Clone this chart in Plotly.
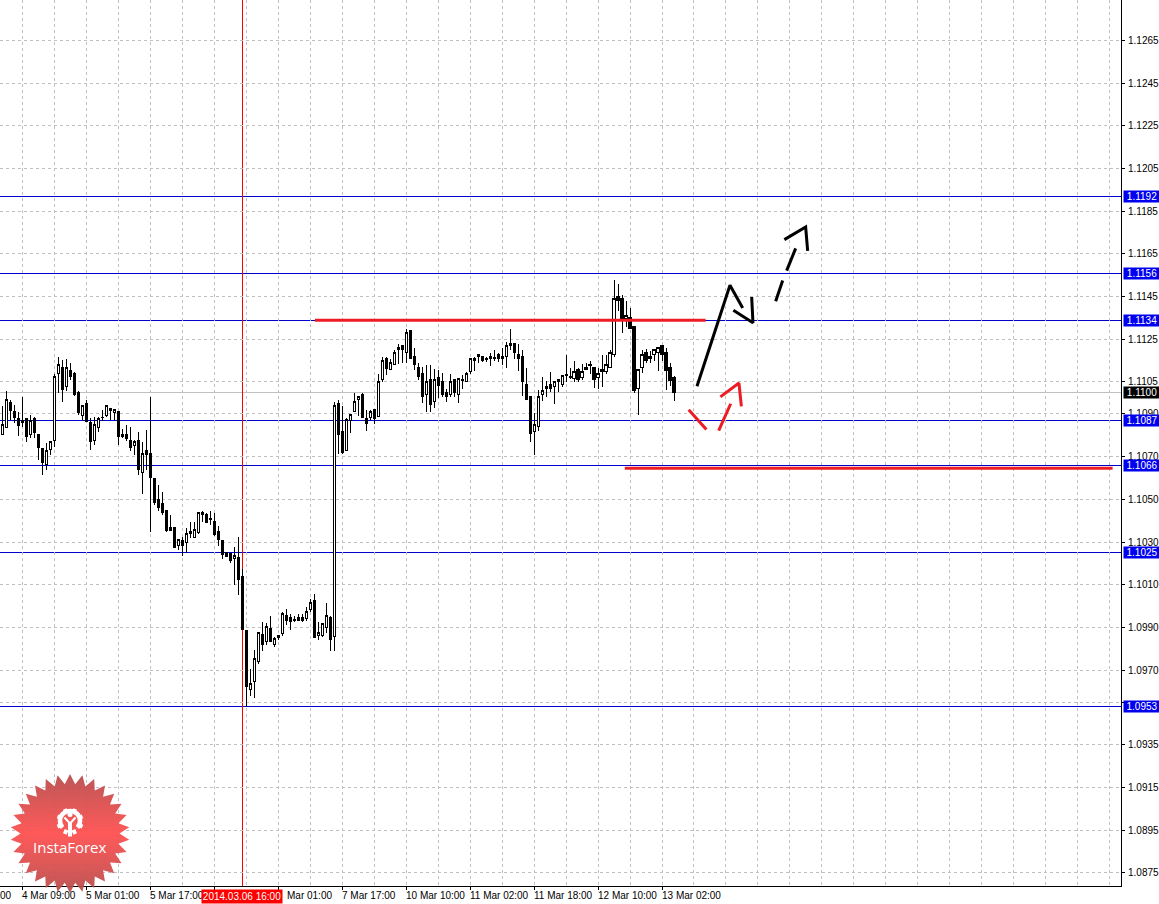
import base64, math
import plotly.graph_objects as go

opens = [
1.10805,1.10839,1.10956,1.10911,1.10877,1.10858,1.10877,1.10805,1.10877,1.10806,
1.10736,1.10664,1.10734,1.10778,1.11088,1.11116,1.11027,1.11106,1.11088,1.10999,
1.10894,1.10947,1.10858,1.10778,1.10839,1.10884,1.10894,1.10928,1.10908,1.10911,
1.10806,1.10806,1.10778,1.10753,1.10778,1.10628,1.10727,1.10717,1.10596,1.10499,
1.10480,1.10446,1.10366,1.10366,1.10284,1.10305,1.10296,1.10349,1.10322,1.10345,
1.10427,1.10427,1.10408,1.10394,1.10349,1.10306,1.10252,1.10244,1.10222,1.10227,
1.10138,1.09885,1.09608,1.09646,1.09739,1.09866,1.09833,1.09894,1.09819,1.09852,
1.09871,1.09955,1.09946,1.09936,1.09946,1.09946,1.09941,1.09983,1.10025,1.09861,
1.09861,1.09899,1.09946,1.09857,1.10948,1.10817,1.10728,1.10869,1.10911,1.10967,
1.10991,1.10878,1.10883,1.10920,1.10888,1.11061,1.11159,1.11108,1.11131,1.11201,
1.11220,1.11187,1.11291,1.11169,1.11117,1.11089,1.10991,1.11061,1.10958,1.11070,
1.11052,1.11000,1.10991,1.11061,1.10991,1.11061,1.11052,1.11098,1.11150,1.11169,
1.11169,1.11159,1.11169,1.11164,1.11178,1.11169,1.11169,1.11230,1.11230,1.11178,
1.11169,1.11037,1.10981,1.10817,1.10841,1.10991,1.11019,1.11037,1.11028,1.11061,
1.11037,1.11084,1.11075,1.11066,1.11108,1.11070,1.11108,1.11131,1.11117,1.11070,
1.11098,1.11098,1.11117,1.11178,1.11450,1.11440,1.11347,1.11351,1.11309,1.11019,
1.11117,1.11187,1.11159,1.11178,1.11187,1.11220,1.11187,1.11117,1.11070]
highs = [
1.10939,1.11009,1.10967,1.10940,1.10910,1.10981,1.10883,1.10896,1.10886,1.10806,
1.10736,1.10764,1.10769,1.11088,1.11167,1.11155,1.11158,1.11139,1.11097,1.11008,
1.10938,1.10967,1.10881,1.10886,1.10886,1.10920,1.10938,1.10928,1.10919,1.10911,
1.10830,1.10850,1.10839,1.10780,1.10816,1.10770,1.10823,1.10981,1.10596,1.10569,
1.10535,1.10446,1.10428,1.10366,1.10314,1.10324,1.10366,1.10396,1.10396,1.10436,
1.10447,1.10436,1.10444,1.10436,1.10373,1.10306,1.10252,1.10244,1.10278,1.10325,
1.10175,1.09885,1.09707,1.09796,1.09880,1.09927,1.09922,1.09955,1.09857,1.09861,
1.09974,1.09988,1.09964,1.09955,1.09964,1.09964,1.09997,1.10035,1.10058,1.09927,
1.09918,1.10016,1.09955,1.10958,1.10967,1.10939,1.10883,1.10897,1.11000,1.10981,
1.11000,1.10920,1.10920,1.10920,1.11089,1.11169,1.11169,1.11159,1.11201,1.11230,
1.11220,1.11300,1.11291,1.11211,1.11141,1.11122,1.11131,1.11131,1.11112,1.11108,
1.11094,1.11019,1.11089,1.11061,1.11070,1.11084,1.11098,1.11159,1.11169,1.11178,
1.11169,1.11169,1.11187,1.11201,1.11187,1.11211,1.11239,1.11300,1.11230,1.11230,
1.11201,1.11117,1.10981,1.10906,1.11014,1.11075,1.11056,1.11098,1.11052,1.11061,
1.11080,1.11178,1.11117,1.11150,1.11117,1.11136,1.11141,1.11150,1.11117,1.11117,
1.11178,1.11178,1.11201,1.11530,1.11511,1.11459,1.11431,1.11398,1.11309,1.11108,
1.11201,1.11206,1.11197,1.11206,1.11211,1.11220,1.11211,1.11141,1.11080]
lows = [
1.10805,1.10839,1.10873,1.10858,1.10795,1.10839,1.10767,1.10786,1.10788,1.10683,
1.10612,1.10636,1.10709,1.10744,1.10997,1.10955,1.11006,1.11061,1.10983,1.10897,
1.10873,1.10866,1.10733,1.10753,1.10814,1.10866,1.10884,1.10873,1.10872,1.10753,
1.10788,1.10772,1.10725,1.10709,1.10612,1.10523,1.10639,1.10345,1.10472,1.10444,
1.10428,1.10345,1.10355,1.10275,1.10264,1.10233,1.10249,1.10321,1.10322,1.10339,
1.10392,1.10392,1.10381,1.10327,1.10280,1.10222,1.10233,1.10202,1.10100,1.10053,
1.09889,1.09529,1.09580,1.09571,1.09730,1.09791,1.09819,1.09833,1.09810,1.09843,
1.09861,1.09913,1.09889,1.09927,1.09932,1.09927,1.09932,1.09974,1.09852,1.09843,
1.09857,1.09875,1.09791,1.09791,1.10714,1.10714,1.10728,1.10813,1.10911,1.10892,
1.10883,1.10822,1.10873,1.10855,1.10888,1.11052,1.11084,1.11108,1.11131,1.11136,
1.11141,1.11141,1.11159,1.11108,1.11061,1.10953,1.10911,1.10911,1.10930,1.10977,
1.10981,1.10958,1.10981,1.10981,1.10953,1.11019,1.11052,1.11089,1.11103,1.11141,
1.11145,1.11145,1.11127,1.11150,1.11145,1.11131,1.11117,1.11201,1.11159,1.11103,
1.10986,1.10967,1.10770,1.10709,1.10822,1.10963,1.10981,1.11005,1.10948,1.11005,
1.11028,1.11052,1.11066,1.11052,1.11052,1.11061,1.11108,1.11089,1.11023,1.11019,
1.11028,1.11089,1.11117,1.11169,1.11384,1.11281,1.11309,1.11300,1.11000,1.10897,
1.11094,1.11141,1.11141,1.11150,1.11103,1.11150,1.11014,1.11033,1.10963]
closes = [
1.10849,1.10966,1.10917,1.10884,1.10847,1.10869,1.10795,1.10869,1.10814,1.10744,
1.10673,1.10727,1.10769,1.11078,1.11130,1.11015,1.11116,1.11078,1.10989,1.10908,
1.10938,1.10866,1.10769,1.10849,1.10877,1.10882,1.10938,1.10917,1.10919,1.10795,
1.10795,1.10786,1.10744,1.10769,1.10638,1.10717,1.10708,1.10603,1.10485,1.10463,
1.10436,1.10355,1.10355,1.10275,1.10314,1.10284,1.10339,1.10338,1.10357,1.10436,
1.10436,1.10392,1.10406,1.10336,1.10311,1.10242,1.10233,1.10213,1.10236,1.10124,
1.09889,1.09622,1.09636,1.09754,1.09875,1.09819,1.09903,1.09833,1.09847,1.09861,
1.09964,1.09932,1.09927,1.09934,1.09932,1.09932,1.09974,1.10016,1.09852,1.09875,
1.09918,1.09955,1.09843,1.10939,1.10803,1.10719,1.10873,1.10897,1.10958,1.10981,
1.10883,1.10855,1.10911,1.10878,1.11052,1.11150,1.11112,1.11141,1.11187,1.11211,
1.11201,1.11281,1.11159,1.11131,1.11075,1.10981,1.11052,1.10944,1.11061,1.11033,
1.10991,1.10981,1.11052,1.11000,1.11066,1.11059,1.11089,1.11159,1.11159,1.11178,
1.11150,1.11157,1.11159,1.11162,1.11159,1.11159,1.11220,1.11220,1.11187,1.11159,
1.11052,1.10967,1.10808,1.10850,1.10981,1.11009,1.11028,1.11019,1.11052,1.11052,
1.11080,1.11082,1.11073,1.11098,1.11061,1.11098,1.11117,1.11129,1.11061,1.11089,
1.11108,1.11131,1.11187,1.11440,1.11431,1.11347,1.11361,1.11300,1.11009,1.11108,
1.11178,1.11150,1.11169,1.11201,1.11211,1.11178,1.11103,1.11056,1.11000]
bars = list(range(len(opens)))

# axis
price_ticks = [1.0875,1.0895,1.0915,1.0935,1.0955,1.0970,1.0990,1.1010,1.1030,1.1050,1.1070,
               1.1090,1.1105,1.1125,1.1145,1.1165,1.1185,1.1205,1.1225,1.1245,1.1265]
price_tick_text = [f"{v:.4f}" if v != 1.0955 else "" for v in price_ticks]
time_tick_bars = [5,21,37,85,101,117,133,149,165]
time_tick_text = ["4 Mar 09:00","5 Mar 01:00","5 Mar 17:00","7 Mar 17:00","10 Mar 10:00",
                  "11 Mar 02:00","11 Mar 18:00","12 Mar 10:00","13 Mar 02:00"]
time_mark_bars = [5,21,37,53,69,85,101,117,133,149,165]

# horizontal levels
upper_levels = [1.1192,1.1156,1.1134,1.1025,1.0953]
blue_levels = [1.1087,1.1066]
last_price = 1.1100
cross_bar = 60
cross_label = "2014.03.06 16:00"

# hand drawn marks (bar, price)
thick_x = [78.2,175.9,None,155.7,277.7]
thick_y = [1.11339,1.11339,None,1.10646,1.10646]
black_x = [173.75,182.0,185.18,None,182.85,187.75,187.43,None,193.43,195.18,None,196.18,198.43,None,195.6,200.93,201.43]
black_y = [1.11030,1.11503,1.11397,None,1.11386,1.11327,1.11448,None,1.11428,1.11526,None,1.11572,1.11676,None,1.11717,1.11776,1.11664]
red_x = [171.68,176.1,None,179.18,182.18,None,179.6,184.25,184.85]
red_y = [1.10920,1.10827,None,1.10822,1.10948,None,1.10980,1.11045,1.10936]

RED = "#ed1c24"
LINE_BLUE = "#0000cd"
BADGE_BLUE = "#0000f0"
W, H = 1159, 904
L_PAD, R_PAD, B_PAD = 0, 38, 18

fig = go.Figure()
fig.add_trace(go.Candlestick(x=bars, open=opens, high=highs, low=lows, close=closes,
    increasing=dict(line=dict(color="black", width=1), fillcolor="white"),
    decreasing=dict(line=dict(color="black", width=1), fillcolor="black"),
    whiskerwidth=0, hoverinfo="skip", showlegend=False))
fig.add_trace(go.Scatter(x=thick_x, y=thick_y, mode="lines", line=dict(color=RED, width=3),
                         hoverinfo="skip", showlegend=False))
fig.add_trace(go.Scatter(x=black_x, y=black_y, mode="lines", line=dict(color="black", width=3),
                         hoverinfo="skip", showlegend=False))
fig.add_trace(go.Scatter(x=red_x, y=red_y, mode="lines", line=dict(color=RED, width=3),
                         hoverinfo="skip", showlegend=False))

shapes = []
for p, c in [(v, LINE_BLUE) for v in upper_levels + blue_levels] + [(last_price, "#c0c0c0")]:
    shapes.append(dict(type="line", xref="paper", x0=0, x1=1, yref="y", y0=p, y1=p,
                       line=dict(color=c, width=1), layer="below"))
shapes.append(dict(type="line", xref="x", x0=cross_bar, x1=cross_bar, yref="paper", y0=0, y1=1,
                   line=dict(color="#ff0000", width=1), layer="below"))

font = "Liberation Sans"
ann = []
for b, t in zip(time_tick_bars, time_tick_text):
    ann.append(dict(x=b, xref="x", y=0, yref="paper", yshift=-9, text=t, showarrow=False,
                    xanchor="left", yanchor="middle", xshift=-2, font=dict(family=font, size=10, color="black")))
ann.append(dict(x=-0.5, xref="x", y=0, yref="paper", yshift=-9, text="00", showarrow=False,
                xanchor="left", yanchor="middle", xshift=-2, font=dict(family=font, size=10, color="black")))
ann.append(dict(x=69, xref="x", y=0, yref="paper", yshift=-9, xshift=7, text="Mar 01:00", showarrow=False,
                xanchor="left", yanchor="middle", font=dict(family=font, size=10, color="black")))
ann.append(dict(x=cross_bar, xref="x", y=0, yref="paper", yshift=-10, text=cross_label, showarrow=False,
                xanchor="center", yanchor="middle", width=80, height=13, bgcolor="#ff0000", borderpad=0,
                font=dict(family=font, size=10, color="white")))
for p, bg in [(v, BADGE_BLUE) for v in upper_levels + blue_levels] + [(last_price, "black")]:
    ann.append(dict(x=1, xref="paper", y=p, yref="y", xshift=2, text=f"{p:.4f}", showarrow=False,
                    xanchor="left", yanchor="middle", width=36, height=11, bgcolor=bg, borderpad=0,
                    font=dict(family=font, size=10, color="white")))
ann.append(dict(x=70/(W-R_PAD), xref="paper", y=(886-846.5)/886, yref="paper", text="InstaForex", showarrow=False,
                xanchor="center", yanchor="middle", font=dict(family="Open Sans", size=15, color="white")))

# logo badge: star burst with vertical gradient and the gear emblem
N = 30; R1 = 59.5; R2 = 49.5; cx = cy = 60
pts = []
for i in range(2 * N):
    r = R1 if i % 2 == 0 else R2
    a = math.pi * i / N - math.pi / 2
    pts.append(f"{cx + r * math.cos(a):.1f},{cy + r * math.sin(a):.1f}")
teeth = []
for i in range(8):
    a = math.radians(i * 45 + 22.5)
    teeth.append(f'<line x1="{60+9*math.cos(a):.1f}" y1="{48+9*math.sin(a):.1f}" x2="{60+13.5*math.cos(a):.1f}" y2="{48+13.5*math.sin(a):.1f}" stroke="white" stroke-width="4"/>')
svg = f'''<svg xmlns="http://www.w3.org/2000/svg" width="120" height="120" viewBox="0 0 120 120">
<defs><linearGradient id="g" x1="0" y1="0" x2="0" y2="1">
<stop offset="0" stop-color="#b84a4a"/><stop offset="0.5" stop-color="#ff4d4d"/><stop offset="1" stop-color="#b84a4a"/>
</linearGradient></defs>
<polygon points="{' '.join(pts)}" fill="url(#g)" fill-opacity="0.93"/>
<path d="M 52.5 54 A 10 10 0 1 1 67.5 54" fill="none" stroke="white" stroke-width="4.5"/>
{''.join(teeth)}
<circle cx="60" cy="41" r="2.5" fill="white"/>
<path d="M 54.5 44 L 60 50 L 65.5 44" fill="none" stroke="white" stroke-width="2"/>
<rect x="58" y="49" width="4" height="14" fill="white"/>
</svg>'''
logo = "data:image/svg+xml;base64," + base64.b64encode(svg.encode()).decode()

fig.update_layout(
    width=W, height=H, margin=dict(l=L_PAD, r=R_PAD, t=0, b=B_PAD, autoexpand=False),
    paper_bgcolor="white", plot_bgcolor="white", showlegend=False, hovermode=False,
    boxgap=0.25,
    shapes=shapes, annotations=ann,
    images=[dict(source=logo, xref="paper", yref="paper", x=10/(W-R_PAD), y=(886-773.5)/886,
                 sizex=120/(W-R_PAD), sizey=120/886, xanchor="left", yanchor="top",
                 sizing="stretch", layer="above")],
    xaxis=dict(range=[-0.575, 279.8], rangeslider=dict(visible=False), showline=True, linecolor="black", linewidth=1,
               tickmode="array", tickvals=time_mark_bars, ticktext=[""] * len(time_mark_bars),
               ticks="outside", ticklen=3, tickcolor="black",
               showgrid=True, gridcolor="#c0c0c0", griddash="3px,3px", gridwidth=1, zeroline=False,
               minor=dict(tickmode="linear", tick0=5, dtick=8, showgrid=True, gridcolor="#c0c0c0", griddash="3px,3px", gridwidth=1, ticks="")),
    yaxis=dict(range=[1.08688, 1.12840], side="right", showline=True, linecolor="black", linewidth=1,
               tickvals=price_ticks, ticktext=price_tick_text, ticks="outside", ticklen=3, ticklabelstandoff=1,
               tickcolor="black", tickfont=dict(family=font, size=10, color="black"),
               showgrid=True, gridcolor="#c0c0c0", griddash="3px,3px", gridwidth=1, zeroline=False),
)
fig.write_html("out.html", config=dict(displayModeBar=False),
               post_script="document.body.style.margin='0';document.body.style.overflow='hidden';"
                           "var s=document.createElement('style');"
                           "s.textContent='.shapelayer path,.boxes path{shape-rendering:crispEdges}';"
                           "document.head.appendChild(s);")
